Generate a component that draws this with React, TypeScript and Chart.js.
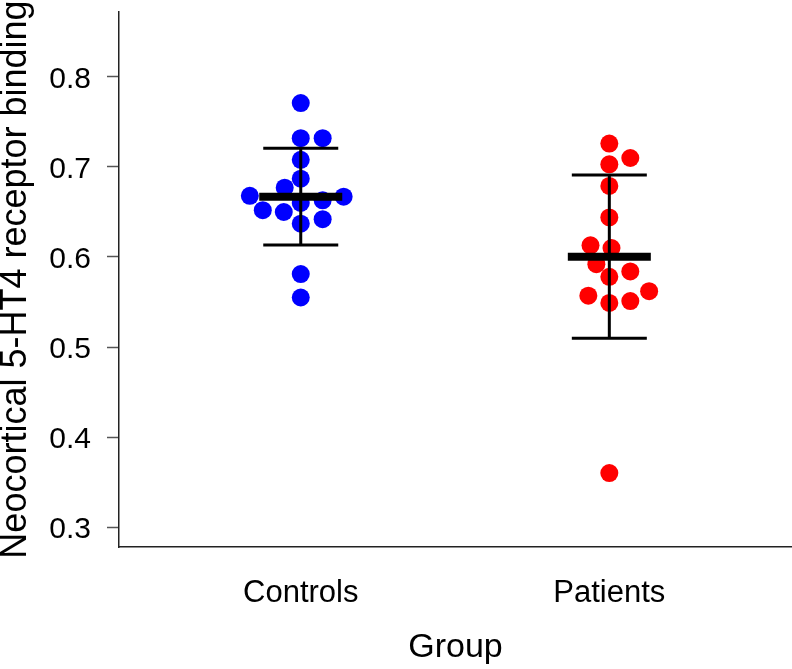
import React, { useEffect, useRef } from "react";
import { Chart, registerables } from "chart.js";

Chart.register(...registerables);

const categories = ["Controls", "Patients"];
const controlsValues = [0.771, 0.732, 0.732, 0.708, 0.687, 0.677, 0.668, 0.667, 0.652, 0.650, 0.660, 0.663, 0.637, 0.642, 0.581, 0.555];
const controlsJitter = [0, 0, 0.071, 0, 0, -0.052, -0.165, 0.139, -0.123, -0.055, 0, 0.071, 0, 0.071, 0, 0];
const patientsValues = [0.726, 0.710, 0.703, 0.679, 0.644, 0.613, 0.610, 0.592, 0.578, 0.584, 0.562, 0.557, 0.549, 0.551, 0.360];
const patientsJitter = [0, 0.068, 0, 0, 0, -0.061, 0.007, -0.042, 0, 0.068, 0.129, -0.068, 0, 0.068, 0];
const groupMeans = [0.667, 0.6004];
const groupSD = [0.0538, 0.0908];
const yTicks = [0.3, 0.4, 0.5, 0.6, 0.7, 0.8];

const FONT = "'Liberation Sans', Arial, Helvetica, sans-serif";

const zeroPadding = (s: any) => {
  s.paddingTop = 0;
  s.paddingBottom = 0;
  s.paddingLeft = 0;
  s.paddingRight = 0;
};

export default function App() {
  const ref = useRef<HTMLCanvasElement | null>(null);

  useEffect(() => {
    document.body.style.margin = "0";
    document.body.style.overflow = "hidden";
    const canvas = ref.current;
    if (!canvas) return;

    const meanSdPlugin = {
      id: "meanSd",
      afterDatasetsDraw(chart: any) {
        const { ctx } = chart;
        const x = chart.scales.x;
        const y = chart.scales.y;
        ctx.save();
        ctx.strokeStyle = "#000000";
        ctx.lineCap = "butt";
        groupMeans.forEach((m, i) => {
          const cx = x.getPixelForValue(i + 1);
          const yTop = y.getPixelForValue(m + groupSD[i]);
          const yBot = y.getPixelForValue(m - groupSD[i]);
          const yM = y.getPixelForValue(m);
          ctx.lineWidth = 3;
          ctx.beginPath();
          ctx.moveTo(cx, yTop);
          ctx.lineTo(cx, yBot);
          ctx.moveTo(cx - 37.5, yTop);
          ctx.lineTo(cx + 37.5, yTop);
          ctx.moveTo(cx - 37.5, yBot);
          ctx.lineTo(cx + 37.5, yBot);
          ctx.stroke();
          ctx.lineWidth = 8;
          ctx.beginPath();
          ctx.moveTo(cx - 41.5, yM);
          ctx.lineTo(cx + 41.5, yM);
          ctx.stroke();
        });
        ctx.restore();
      },
    };

    const chart = new Chart(canvas, {
      type: "scatter",
      data: {
        datasets: [
          {
            label: categories[0],
            data: controlsValues.map((v, i) => ({ x: 1 + controlsJitter[i], y: v })),
            backgroundColor: "#0000FF",
            borderWidth: 0,
            pointRadius: 9,
            pointHoverRadius: 9,
          },
          {
            label: categories[1],
            data: patientsValues.map((v, i) => ({ x: 2 + patientsJitter[i], y: v })),
            backgroundColor: "#FF0000",
            borderWidth: 0,
            pointRadius: 9,
            pointHoverRadius: 9,
          },
        ],
      },
      options: {
        animation: false,
        responsive: true,
        maintainAspectRatio: false,
        layout: { autoPadding: false, padding: { top: 12, right: 0, left: 0, bottom: 0 } },
        plugins: {
          legend: { display: false },
          tooltip: { enabled: false },
        },
        scales: {
          x: {
            type: "linear",
            position: "bottom",
            min: 0.411,
            max: 2.592,
            grid: { display: true, drawOnChartArea: false, drawTicks: false },
            border: { display: true, color: "#222222", width: 1.5 },
            afterBuildTicks: (s: any) => {
              s.ticks = categories.map((_, i) => ({ value: i + 1 }));
            },
            afterFit: (s: any) => {
              s.height = 122;
              zeroPadding(s);
            },
            ticks: {
              autoSkip: false,
              maxRotation: 0,
              padding: 28,
              color: "#000000",
              font: { family: FONT, size: 31 },
              callback: (v: any) => categories[Math.round(Number(v)) - 1] ?? "",
            },
            title: {
              display: true,
              text: "Group",
              color: "#000000",
              font: { family: FONT, size: 34 },
              padding: { top: 0, bottom: 1 },
            },
          },
          y: {
            type: "linear",
            min: 0.2778,
            max: 0.8722,
            grid: { display: true, drawOnChartArea: false, drawTicks: true, tickLength: 12, color: "#555555", tickWidth: 1.5 },
            border: { display: true, color: "#222222", width: 1.5 },
            afterBuildTicks: (s: any) => {
              s.ticks = yTicks.map((v) => ({ value: v }));
            },
            afterFit: (s: any) => {
              s.width = 119;
              zeroPadding(s);
            },
            ticks: {
              padding: 16,
              labelOffset: 3,
              color: "#000000",
              font: { family: FONT, size: 30 },
              callback: (v: any) => Number(v).toFixed(1),
            },
            title: {
              display: true,
              text: "Neocortical 5-HT4 receptor binding",
              color: "#000000",
              font: { family: FONT, size: 36, lineHeight: 0.9 },
              padding: { top: 0, bottom: 0 },
            },
          },
        },
      },
      plugins: [meanSdPlugin],
    });

    return () => chart.destroy();
  }, []);

  return (
    <div style={{ position: "relative", width: 792, height: 669, overflow: "hidden" }}>
      <canvas ref={ref} style={{ display: "block" }} />
    </div>
  );
}
